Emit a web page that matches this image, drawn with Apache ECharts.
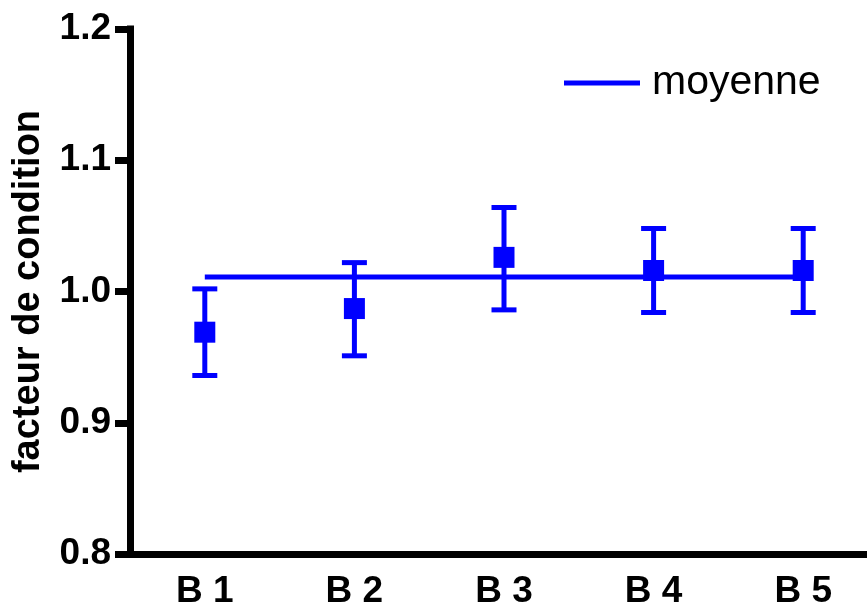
<!DOCTYPE html>
<html>
<head>
<meta charset="utf-8">
<script src="https://cdn.jsdelivr.net/npm/echarts@6/dist/echarts.min.js"></script>
<style>
html,body{margin:0;padding:0;background:#fff;}
#chart{width:867px;height:607px;}
</style>
</head>
<body>
<div id="chart"></div>
<script>
var categories = ['B 1', 'B 2', 'B 3', 'B 4', 'B 5'];
var means = [0.969, 0.987, 1.026, 1.016, 1.016];
var errHigh = [1.002, 1.022, 1.064, 1.048, 1.048];
var errLow = [0.936, 0.951, 0.986, 0.984, 0.984];
var moyenne = 1.011;
var yTicks = [0.8, 0.9, 1.0, 1.1, 1.2];

var BLUE = '#0000ff';
var FONT = "'Liberation Sans', Arial, Helvetica, sans-serif";

var chart = echarts.init(document.getElementById('chart'), null, {renderer: 'canvas'});

var errData = categories.map(function (c, i) { return [i, errLow[i], errHigh[i]]; });
var meanLineData = categories.map(function (c) { return moyenne; });

var option = {
  animation: false,
  backgroundColor: '#ffffff',
  grid: {left: 130, top: 29, width: 748, height: 525, containLabel: false, outerBoundsMode: 'none'},
  legend: {
    data: [{name: 'moyenne', icon: 'rect'}],
    left: 564,
    top: 62.5,
    padding: 0,
    itemWidth: 76,
    itemHeight: 5,
    itemStyle: {color: BLUE},
    textStyle: {fontFamily: FONT, fontSize: 41, color: '#000', padding: [0, 0, 0, 7]}
  },
  xAxis: {
    type: 'category',
    data: categories,
    boundaryGap: true,
    axisLine: {lineStyle: {color: '#000', width: 7, cap: 'square'}},
    axisTick: {alignWithLabel: true, length: 19, lineStyle: {color: '#000', width: 6}},
    axisLabel: {color: '#000', fontFamily: FONT, fontWeight: 'bold', fontSize: 37, margin: 19},
    splitLine: {show: false}
  },
  yAxis: {
    type: 'value',
    min: 0.8,
    max: 1.2,
    interval: 0.1,
    name: 'facteur de condition',
    nameLocation: 'middle',
    nameRotate: 90,
    nameGap: 82,
    nameTextStyle: {color: '#000', fontFamily: FONT, fontWeight: 'bold', fontSize: 38},
    axisLine: {show: true, lineStyle: {color: '#000', width: 7, cap: 'square'}},
    axisTick: {show: true, length: 15, lineStyle: {color: '#000', width: 7}},
    axisLabel: {
      color: '#000', fontFamily: FONT, fontWeight: 'bold', fontSize: 37, margin: 19,
      formatter: function (v) { return v.toFixed(1); }
    },
    splitLine: {show: false}
  },
  series: [
    {
      name: 'moyenne',
      type: 'line',
      data: meanLineData,
      symbol: 'none',
      lineStyle: {color: BLUE, width: 5},
      itemStyle: {color: BLUE},
      z: 2
    },
    {
      name: 'err',
      type: 'custom',
      data: errData,
      z: 3,
      renderItem: function (params, api) {
        var x = api.value(0);
        var lo = api.coord([x, api.value(1)]);
        var hi = api.coord([x, api.value(2)]);
        var cw = 12.5;
        var st = {stroke: BLUE, lineWidth: 5};
        return {
          type: 'group',
          children: [
            {type: 'line', shape: {x1: lo[0], y1: lo[1], x2: hi[0], y2: hi[1]}, style: st},
            {type: 'line', shape: {x1: lo[0] - cw, y1: lo[1], x2: lo[0] + cw, y2: lo[1]}, style: st},
            {type: 'line', shape: {x1: hi[0] - cw, y1: hi[1], x2: hi[0] + cw, y2: hi[1]}, style: st}
          ]
        };
      }
    },
    {
      name: 'points',
      type: 'scatter',
      data: means,
      symbol: 'rect',
      symbolSize: 21,
      itemStyle: {color: BLUE, opacity: 1},
      z: 4
    }
  ]
};
chart.setOption(option);
</script>
</body>
</html>
